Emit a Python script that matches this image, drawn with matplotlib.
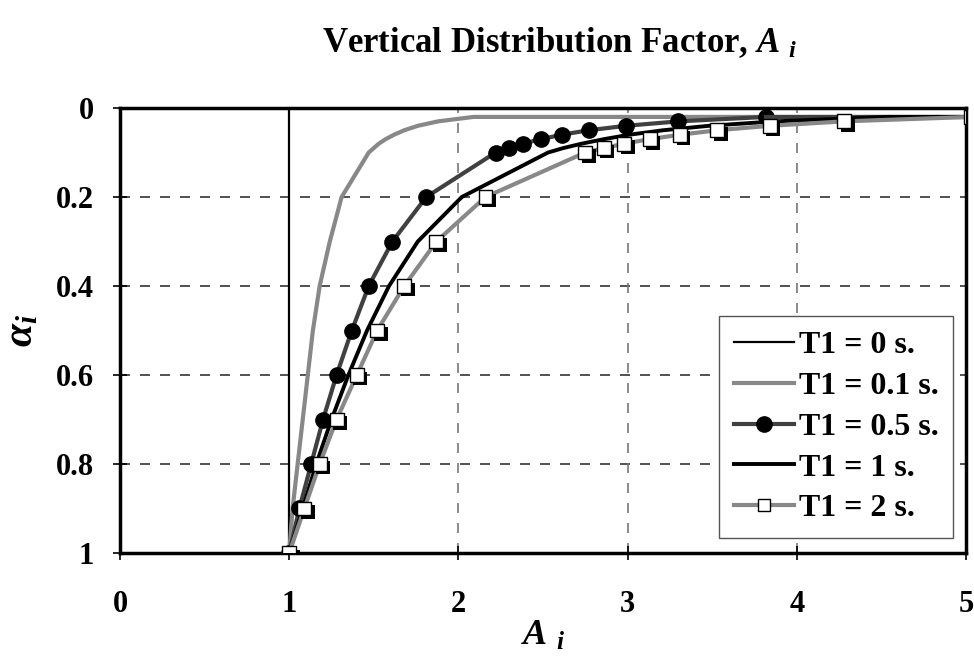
import numpy as np
import matplotlib
matplotlib.use('Agg')
import matplotlib.pyplot as plt
import matplotlib.patheffects as pe

# storey level ratio alpha_i (top of chart = 0, base = 1)
alpha = [1.0, 0.9, 0.8, 0.7, 0.6, 0.5, 0.4, 0.3, 0.2, 0.1,
         0.09, 0.08, 0.07, 0.06, 0.05, 0.04, 0.03, 0.02, 0.02]

# A_i (last value: line runs on past the right edge)
ai_t0 = [1.0, 1.0]
alpha_t0 = [1.0, 0.0]
ai_t01 = [1.00, 1.02, 1.05, 1.08, 1.11, 1.14, 1.18, 1.24, 1.31, 1.47,
          1.50, 1.53, 1.57, 1.62, 1.68, 1.76, 1.88, 2.09, 6.0]
ai_t05 = [1.00, 1.06, 1.13, 1.20, 1.28, 1.37, 1.47, 1.61, 1.81, 2.22,
          2.30, 2.38, 2.49, 2.61, 2.77, 2.99, 3.30, 3.82, 6.0]
ai_t1 = [1.00, 1.08, 1.16, 1.25, 1.35, 1.46, 1.59, 1.76, 2.02, 2.53,
         2.62, 2.73, 2.86, 3.01, 3.21, 3.48, 3.87, 4.53, 6.0]
ai_t2 = [1.00, 1.09, 1.18, 1.28, 1.40, 1.52, 1.68, 1.87, 2.16, 2.75,
         2.86, 2.98, 3.13, 3.31, 3.53, 3.84, 4.28, 5.03, 6.0]

labels = ['T1 = 0 s.', 'T1 = 0.1 s.', 'T1 = 0.5 s.', 'T1 = 1 s.', 'T1 = 2 s.']

plt.rcParams['font.family'] = ['Liberation Serif', 'DejaVu Serif']
plt.rcParams['mathtext.fontset'] = 'custom'
plt.rcParams['mathtext.it'] = 'Liberation Serif:italic:bold'
plt.rcParams['mathtext.rm'] = 'Liberation Serif:bold'

fig = plt.figure(figsize=(9.74, 6.57), dpi=100)
ax = fig.add_axes([0.1232, 0.1583, 0.8686, 0.6773])

shadow = [pe.SimplePatchShadow(offset=(2.5, -2.5), shadow_rgbFace='black', alpha=1.0), pe.Normal()]

ax.plot(ai_t0, alpha_t0, color='black', lw=1.6, label=labels[0], zorder=3)
ax.plot(ai_t01, alpha, color='#888888', lw=3.0, label=labels[1], zorder=3)
ax.plot(ai_t05[:-1], alpha[:-1], color='#404040', lw=3.0, marker='o', ms=11,
        mfc='black', mec='black', label=labels[2], zorder=4)
ax.plot(ai_t05[-2:], alpha[-2:], color='#404040', lw=3.0, zorder=4)
ax.plot(ai_t1, alpha, color='black', lw=2.8, label=labels[3], zorder=4)
ax.plot(ai_t2, alpha, color='#888888', lw=3.0, label='_nolegend_', zorder=4)
ax.plot(ai_t2[:-1], alpha[:-1], ls='none', marker='s', ms=10, mfc='white',
        mec='black', mew=1.0, path_effects=shadow, zorder=5, clip_on=True)
# legend handle for T1 = 2 s.
ax.plot([], [], color='#888888', lw=3.0, marker='s', ms=9, mfc='white',
        mec='black', mew=1.0, label=labels[4])

ax.set_xlim(0, 5)
ax.set_ylim(1, 0)
ax.set_xticks([0, 1, 2, 3, 4, 5])
ax.set_yticks([0, 0.2, 0.4, 0.6, 0.8, 1])
ax.set_yticklabels(['0', '0.2', '0.4', '0.6', '0.8', '1'])
ax.tick_params(direction='inout', length=10, width=1.2, labelsize=22)
ax.tick_params(axis='x', pad=22)
ax.tick_params(axis='y', pad=14)
for lab in ax.get_xticklabels() + ax.get_yticklabels():
    lab.set_fontweight('bold')

for y in [0.2, 0.4, 0.6, 0.8]:
    ax.axhline(y, color='#333333', lw=1.2, ls=(0, (6, 6)), zorder=1)
for x in [2, 3, 4]:
    ax.axvline(x, color='#777777', lw=1.2, ls=(0, (6, 6)), zorder=1)

for s in ax.spines.values():
    s.set_linewidth(2.5)

ax.set_xlabel(r'$A$ $_{i}$', fontsize=26, labelpad=0)
ax.set_ylabel(r'$\alpha_i$', fontsize=30, labelpad=10)

fig.text(0.574, 0.935, r'Vertical Distribution Factor, $A$ $_{i}$', ha='center', va='center',
         fontsize=25, fontweight='bold')

leg = ax.legend(loc='lower right', bbox_to_anchor=(0.985, 0.034), borderaxespad=0,
                prop={'weight': 'bold', 'size': 23}, frameon=True, fancybox=False,
                edgecolor='#555555', framealpha=1, handlelength=1.9, handletextpad=0.15,
                labelspacing=0.36, borderpad=0.45)
leg.get_frame().set_linewidth(1.0)

fig.savefig('out.png', dpi=100)
